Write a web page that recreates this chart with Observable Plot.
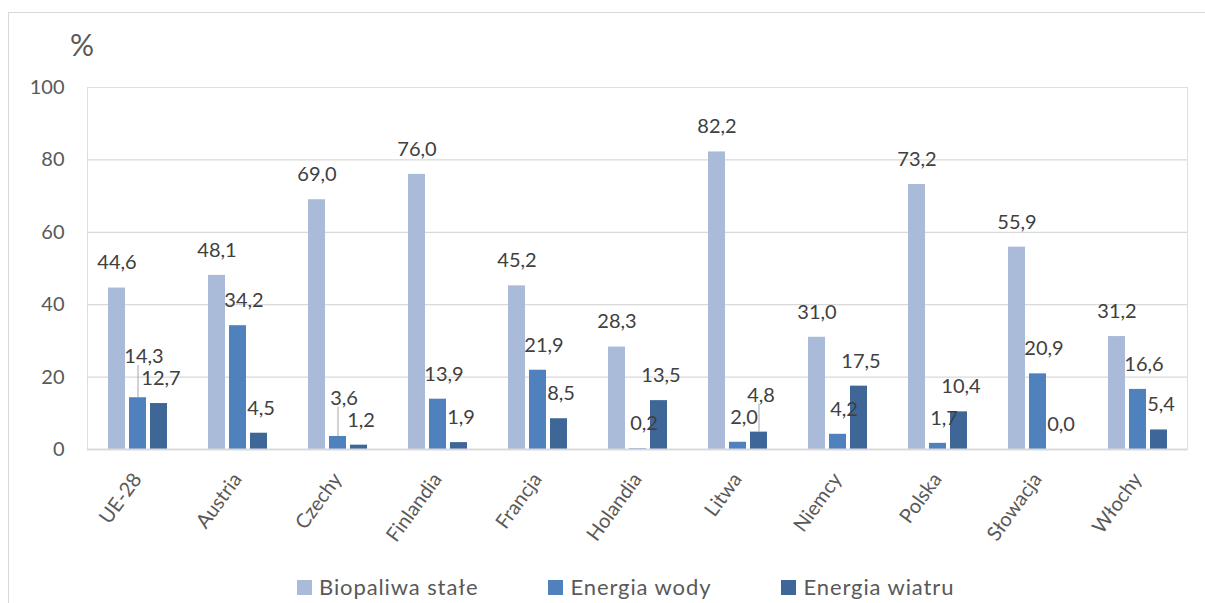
<!DOCTYPE html>
<html>
<head>
<meta charset="utf-8">
<script src="https://cdn.jsdelivr.net/npm/d3@7"></script>
<script src="https://cdn.jsdelivr.net/npm/@observablehq/plot@0.6"></script>
<style>
  body { margin: 0; background: #fff; font-family: Lato, "Open Sans", sans-serif; }
  #wrap { position: relative; width: 1205px; height: 603px; overflow: hidden; }
  #border { position: absolute; left: 8px; top: 12px; width: 1220px; height: 620px; border: 1px solid #d9d9d9; box-sizing: border-box; }
  #chart { position: absolute; left: 0; top: 0; }
  #unit { position: absolute; left: 70px; top: 26px; font-size: 30px; color: #595959; }
  #legend { position: absolute; left: 297px; top: 574px; display: flex; gap: 70px; font-size: 22px; letter-spacing: 0.9px; color: #595959; line-height: 26px; }
  .item { display: flex; align-items: center; }
  .swatch { width: 15px; height: 15px; margin-right: 7px; }
</style>
</head>
<body>
<div id="wrap">
  <div id="border"></div>
  <div id="chart"></div>
  <div id="unit">%</div>
  <div id="legend"></div>
</div>
<script>
// Udział źródeł energii odnawialnej (%)
const countries = ["UE-28", "Austria", "Czechy", "Finlandia", "Francja", "Holandia", "Litwa", "Niemcy", "Polska", "Słowacja", "Włochy"];
const seriesNames = ["Biopaliwa stałe", "Energia wody", "Energia wiatru"];
const biopaliwa = [44.6, 48.1, 69.0, 76.0, 45.2, 28.3, 82.2, 31.0, 73.2, 55.9, 31.2];
const energiaWody = [14.3, 34.2, 3.6, 13.9, 21.9, 0.2, 2.0, 4.2, 1.7, 20.9, 16.6];
const energiaWiatru = [12.7, 4.5, 1.2, 1.9, 8.5, 13.5, 4.8, 17.5, 10.4, 0.0, 5.4];
const yTicks = [0, 20, 40, 60, 80, 100];
const colors = ["#aabad9", "#4f81bd", "#3e6798"];

const width = 1205, height = 565;
const marginTop = 87, marginBottom = 116, marginLeft = 85, marginRight = 16;
const pxPerUnit = (height - marginTop - marginBottom) / 100;
const labelRise = 25;      // distance from bar top to label centre, px
const labelGap = 22;       // minimum vertical spacing between neighbouring labels, px

const valuesBySeries = [biopaliwa, energiaWody, energiaWiatru];
const rows = countries.flatMap((country, i) =>
  seriesNames.map((series, s) => ({country, series, value: valuesBySeries[s][i], labelY: valuesBySeries[s][i], lifted: false}))
);

// When the water and wind labels of one country would collide, raise the taller one
// above the other and connect it to its bar with a leader line.
for (const country of countries) {
  const [, w, v] = rows.filter(d => d.country === country);
  if (Math.abs(w.value - v.value) * pxPerUnit < labelGap) {
    const [hi, lo] = w.value >= v.value ? [w, v] : [v, w];
    hi.labelY = lo.value + labelGap / pxPerUnit;
    hi.lifted = true;
  }
}

const fmt = v => d3.format(".1f")(v).replace(".", ",");
const labelDx = [0, 6, 2];

const chart = Plot.plot({
  width, height, marginTop, marginBottom, marginLeft, marginRight,
  style: {fontFamily: "Lato, 'Open Sans', sans-serif", fontSize: "20px", color: "#595959", background: "transparent"},
  fx: {domain: countries, padding: 0, label: null},
  x: {domain: seriesNames, paddingInner: 0.21, paddingOuter: 0.887, axis: null},
  y: {domain: [0, 100], axis: null},
  color: {domain: seriesNames, range: colors},
  marks: [
    Plot.frame({facet: "super", stroke: "#d6e0ef"}),
    Plot.gridY(yTicks.filter(t => t > 0 && t < 100), {stroke: "#d9d9d9", strokeOpacity: 1, strokeWidth: 1.3}),
    Plot.axisY(yTicks, {tickSize: 0, tickPadding: 23, label: null, fontSize: 20, tickFormat: d => d}),
    Plot.axisFx({anchor: "bottom", tickSize: 0, tickPadding: 26, tickRotate: -54, label: null, fontSize: 20}),
    Plot.barY(rows, {fx: "country", x: "series", y: "value", fill: "series"}),
    Plot.ruleY([0], {stroke: "#d9d9d9", strokeWidth: 2}),
    Plot.ruleX(rows.filter(d => d.lifted), {
      fx: "country", x: "series", y1: "value", y2: d => d.labelY + (labelRise - 9) / pxPerUnit,
      stroke: "#a6a6a6", strokeWidth: 1
    }),
    ...seriesNames.map((s, i) => Plot.text(rows.filter(d => d.series === s), {
      fx: "country", x: "series", y: "labelY", text: d => fmt(d.value),
      dy: -labelRise, dx: labelDx[i], fill: "#404040", fontSize: 20, lineAnchor: "middle"
    }))
  ]
});
document.getElementById("chart").append(chart);

const legend = document.getElementById("legend");
seriesNames.forEach((name, i) => {
  const item = document.createElement("div");
  item.className = "item";
  const sw = document.createElement("span");
  sw.className = "swatch";
  sw.style.background = colors[i];
  const tx = document.createElement("span");
  tx.textContent = name;
  item.append(sw, tx);
  legend.append(item);
});
</script>
</body>
</html>
